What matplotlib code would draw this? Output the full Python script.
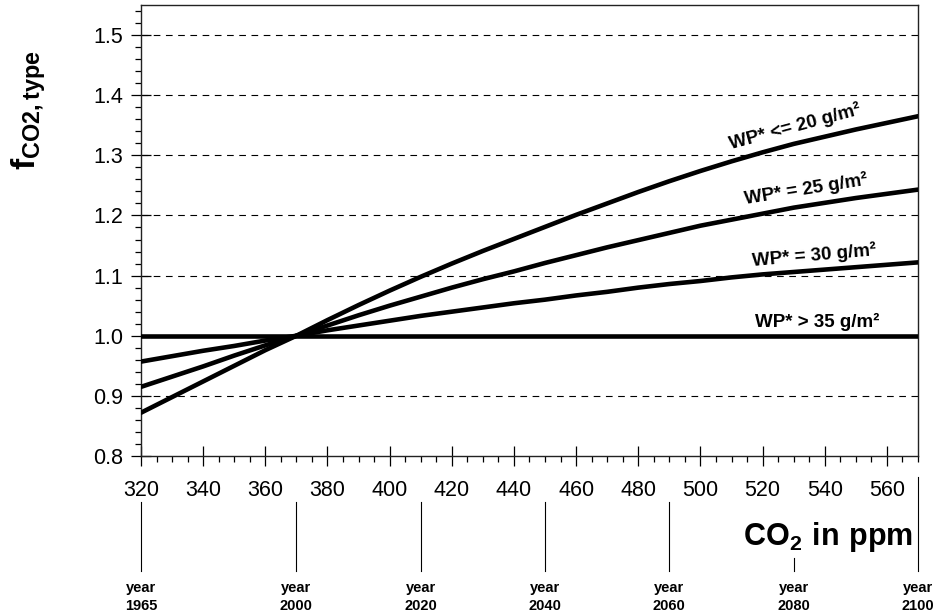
import matplotlib.pyplot as plt
from matplotlib.ticker import MultipleLocator
import matplotlib.transforms as mtransforms

plt.rcParams['font.family'] = ['Liberation Sans', 'DejaVu Sans']
plt.rcParams['mathtext.fontset'] = 'custom'
plt.rcParams['mathtext.rm'] = 'Liberation Sans'
plt.rcParams['mathtext.bf'] = 'Liberation Sans:bold'

# CO2 concentration (ppm) and f_CO2,type
ppm = [320, 330, 340, 350, 360, 370, 380, 390, 400, 410, 420, 430, 440,
       450, 460, 470, 480, 490, 500, 510, 520, 530, 540, 550, 560, 570]

wp20 = [0.872, 0.898, 0.924, 0.950, 0.976, 1.000, 1.026, 1.051, 1.075,
        1.098, 1.120, 1.141, 1.161, 1.181, 1.201, 1.220, 1.239, 1.257,
        1.274, 1.290, 1.305, 1.319, 1.331, 1.343, 1.354, 1.365]
wp25 = [0.915, 0.932, 0.949, 0.967, 0.984, 1.000, 1.017, 1.034, 1.050,
        1.065, 1.080, 1.094, 1.107, 1.121, 1.134, 1.147, 1.159, 1.171,
        1.183, 1.193, 1.203, 1.213, 1.221, 1.229, 1.236, 1.243]
wp30 = [0.957, 0.966, 0.975, 0.983, 0.992, 1.000, 1.009, 1.017, 1.025,
        1.033, 1.040, 1.047, 1.054, 1.060, 1.067, 1.073, 1.080, 1.086,
        1.091, 1.097, 1.102, 1.106, 1.110, 1.114, 1.118, 1.122]
wp35 = [1.0] * len(ppm)

curve_labels = ["WP* <= 20 g/m²", "WP* = 25 g/m²", "WP* = 30 g/m²", "WP* > 35 g/m²"]

years = [1965, 2000, 2020, 2040, 2060, 2080, 2100]
year_ppm = [320, 370, 410, 450, 490, 530, 570]

fig = plt.figure(figsize=(9.35, 6.15), dpi=100)
ax = fig.add_axes([141 / 935, 1 - 456 / 615, 777 / 935, 451 / 615])

for y in [wp20, wp25, wp30, wp35]:
    ax.plot(ppm, y, color='black', lw=3.3, solid_capstyle='round',
            solid_joinstyle='round', zorder=3)

ax.set_xlim(320, 570)
ax.set_ylim(0.8, 1.55)
ax.xaxis.set_major_locator(MultipleLocator(20))
ax.xaxis.set_minor_locator(MultipleLocator(5))
ax.yaxis.set_major_locator(MultipleLocator(0.1))
ax.yaxis.set_minor_locator(MultipleLocator(0.02))
ax.tick_params(which='major', direction='inout', length=14, width=0.9, labelsize=15.5)
ax.tick_params(which='minor', direction='out', length=4.5, width=0.9)
ax.tick_params(axis='x', which='major', pad=10)
ax.tick_params(axis='y', which='major', pad=6)
ax.set_xticks(range(320, 561, 20))
ax.set_yticks([0.8, 0.9, 1.0, 1.1, 1.2, 1.3, 1.4, 1.5])
ax.set_yticklabels(['0.8', '0.9', '1.0', '1.1', '1.2', '1.3', '1.4', '1.5'])

for g in [0.9, 1.1, 1.2, 1.3, 1.4, 1.5]:
    ax.axhline(g, color='black', lw=0.8, ls=(0, (6, 5)), zorder=1)

for s in ax.spines.values():
    s.set_linewidth(1.0)
    s.set_color('#222222')

# curve labels
ax.text(530.4, 1.347, curve_labels[0], rotation=15, fontsize=13.5, fontweight='bold',
        ha='center', va='center')
ax.text(534, 1.243, curve_labels[1], rotation=9, fontsize=13.5, fontweight='bold',
        ha='center', va='center')
ax.text(536.5, 1.133, curve_labels[2], rotation=5, fontsize=13.5, fontweight='bold',
        ha='center', va='center')
ax.text(537.5, 1.023, curve_labels[3], rotation=0, fontsize=13.5, fontweight='bold',
        ha='center', va='center')

# year markers below the axis
trans = mtransforms.blended_transform_factory(ax.transData, ax.transAxes)
for yr, p in zip(years, year_ppm):
    top = -0.102
    if yr == 2080:
        top = -0.226
    if yr == 2100:
        top = -0.047
    ax.plot([p, p], [top, -0.255], transform=trans, color='black', lw=0.8,
            clip_on=False)
    ax.text(p, -0.293, 'year', transform=trans, fontsize=10.5, fontweight='bold',
            ha='center', va='center')
    ax.text(p, -0.333, str(yr), transform=trans, fontsize=10.5, fontweight='bold',
            ha='center', va='center')

fig.text(913 / 935, 1 - 537 / 615, r'$\mathbf{CO_2\ in\ ppm}$', fontsize=22,
         ha='right', va='center')
fig.text(29 / 935, 1 - 110 / 615, r'$\mathbf{f_{CO2,type}}$', fontsize=24,
         rotation=90, ha='center', va='center')

fig.savefig('out.png', dpi=100)
